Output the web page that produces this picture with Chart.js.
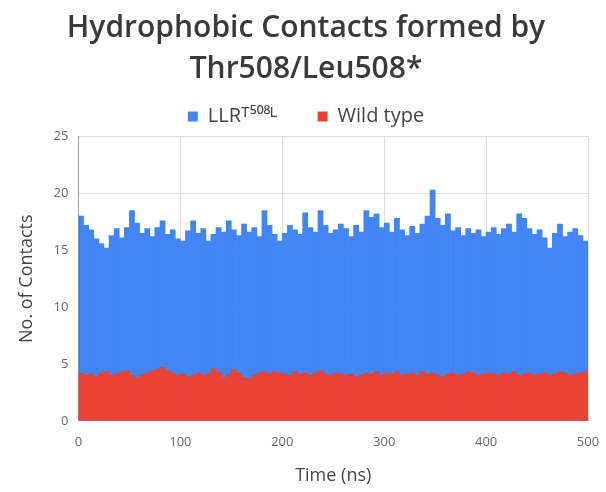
<!DOCTYPE html>
<html>
<head>
<meta charset="utf-8">
<script src="https://cdn.jsdelivr.net/npm/chart.js@4"></script>
<style>
  html, body { margin: 0; padding: 0; background: #fff; }
  #wrap { width: 606px; height: 492px; }
</style>
</head>
<body>
<div id="wrap"><canvas id="contactsChart"></canvas></div>
<script>
// --- data ---
const timeNs = [
  2.5, 7.5, 12.5, 17.5, 22.5, 27.5, 32.5, 37.5, 42.5, 47.5,
  52.5, 57.5, 62.5, 67.5, 72.5, 77.5, 82.5, 87.5, 92.5, 97.5,
  102.5, 107.5, 112.5, 117.5, 122.5, 127.5, 132.5, 137.5, 142.5, 147.5,
  152.5, 157.5, 162.5, 167.5, 172.5, 177.5, 182.5, 187.5, 192.5, 197.5,
  202.5, 207.5, 212.5, 217.5, 222.5, 227.5, 232.5, 237.5, 242.5, 247.5,
  252.5, 257.5, 262.5, 267.5, 272.5, 277.5, 282.5, 287.5, 292.5, 297.5,
  302.5, 307.5, 312.5, 317.5, 322.5, 327.5, 332.5, 337.5, 342.5, 347.5,
  352.5, 357.5, 362.5, 367.5, 372.5, 377.5, 382.5, 387.5, 392.5, 397.5,
  402.5, 407.5, 412.5, 417.5, 422.5, 427.5, 432.5, 437.5, 442.5, 447.5,
  452.5, 457.5, 462.5, 467.5, 472.5, 477.5, 482.5, 487.5, 492.5, 497.5
];

const llrContacts = [
  18.0, 17.2, 16.8, 16.0, 15.6, 15.2, 16.3, 16.9, 16.1, 17.0,
  18.5, 17.4, 16.5, 16.9, 16.2, 17.0, 17.6, 16.4, 16.8, 16.0,
  15.8, 16.7, 17.6, 16.5, 16.9, 15.8, 16.4, 17.0, 16.6, 17.6,
  16.8, 16.3, 17.3, 16.6, 17.0, 16.2, 18.5, 17.2, 16.4, 15.8,
  16.5, 17.2, 16.8, 16.4, 18.3, 17.0, 16.6, 18.5, 17.2, 16.5,
  16.8, 17.3, 16.9, 16.2, 17.2, 16.6, 18.5, 17.9, 18.2, 17.0,
  17.4, 16.6, 17.8, 16.8, 16.3, 17.1, 16.5, 17.3, 18.0, 20.3,
  17.8, 17.2, 18.2, 16.7, 17.0, 16.3, 16.9, 16.5, 16.8, 16.2,
  16.6, 17.0, 16.4, 16.9, 17.3, 16.6, 18.2, 17.8, 16.9, 16.4,
  16.8, 16.1, 15.2, 16.5, 17.3, 16.2, 16.6, 16.9, 16.3, 15.8
];

const wildContacts = [
  4.2, 4.0, 4.1, 3.9, 4.2, 4.3, 4.0, 4.1, 4.3, 4.4,
  4.0, 3.8, 4.0, 4.2, 4.4, 4.5, 4.7, 4.4, 4.2, 4.0,
  4.1, 3.9, 4.0, 4.2, 4.0, 4.1, 4.6, 4.3, 3.8, 4.1,
  4.5, 4.2, 3.8, 3.7, 4.0, 4.2, 4.3, 4.1, 4.3, 4.2,
  4.1, 4.0, 4.3, 4.1, 4.2, 4.0, 4.2, 4.4, 4.1, 4.0,
  4.2, 4.1, 4.0, 4.1, 3.9, 4.0, 4.2, 4.1, 4.3, 4.0,
  4.2, 4.1, 4.3, 4.0, 4.1, 4.2, 4.0, 4.3, 4.1, 4.2,
  4.0, 3.9, 4.1, 4.2, 4.0, 4.1, 4.3, 4.2, 4.0, 4.1,
  4.2, 4.1, 4.0, 4.2, 4.1, 4.3, 4.0, 4.1, 4.2, 4.0,
  4.1, 4.2, 4.0, 4.1, 4.3, 4.2, 4.0, 4.1, 4.2, 4.3
];

const xTicks = [0, 100, 200, 300, 400, 500];
const yTicks = [0, 5, 10, 15, 20, 25];

// colours
const blue = '#4285f4';
const red = '#ea4335';
const gridColor = '#dddddd';
const textColor = '#444444';

Chart.defaults.font.family = "'Open Sans', sans-serif";
Chart.defaults.color = textColor;

const toPoints = vals => vals.map((v, i) => ({ x: timeNs[i], y: v }));

new Chart(document.getElementById('contactsChart'), {
    type: 'bar',
    data: {
        datasets: [
            {
                label: 'LLR\u1D40\u2075\u2070\u2078\u1D38',
                data: toPoints(llrContacts),
                backgroundColor: blue,
                borderWidth: 0,
                barPercentage: 1,
                categoryPercentage: 1,
                order: 1
            },
            {
                label: 'Wild type',
                data: toPoints(wildContacts),
                backgroundColor: red,
                borderWidth: 0,
                barPercentage: 1,
                categoryPercentage: 1,
                order: 0
            }
        ]
    },
    options: {
        responsive: true,
        maintainAspectRatio: false,
        animation: false,
        layout: { padding: { left: 12, right: 6, top: 4, bottom: 5 } },
        datasets: { bar: { grouped: false } },
        plugins: {
            title: {
                display: true,
                text: ['Hydrophobic Contacts formed by', 'Thr508/Leu508*'],
                color: '#3a3a3a',
                font: { size: 30, weight: '600', lineHeight: 1.36 },
                padding: { top: 4, bottom: -23 }
            },
            legend: {
                position: 'top',
                labels: {
                    boxWidth: 10,
                    boxHeight: 10,
                    font: { size: 20 },
                    color: textColor,
                    padding: 40,
                    sort: (a, b) => a.datasetIndex - b.datasetIndex
                }
            },
            tooltip: { enabled: false }
        },
        scales: {
            x: {
                type: 'linear',
                min: 0,
                max: 500,
                offset: false,
                afterBuildTicks: axis => { axis.ticks = xTicks.map(v => ({ value: v })); },
                afterFit: axis => { axis.paddingRight = 18; },
                ticks: { font: { size: 13 }, color: '#666', maxRotation: 0, padding: 14 },
                grid: { color: gridColor, drawTicks: false, offset: false },
                border: { color: '#999' },
                title: { display: true, text: 'Time (ns)', font: { size: 18 }, color: textColor, padding: { top: 1, bottom: 0 } }
            },
            y: {
                min: 0,
                max: 25,
                afterBuildTicks: axis => { axis.ticks = yTicks.map(v => ({ value: v })); },
                ticks: { font: { size: 13 }, color: '#666', padding: 10 },
                grid: { color: gridColor, drawTicks: false },
                border: { color: '#999' },
                title: { display: true, text: 'No. of Contacts', font: { size: 18 }, color: textColor, padding: { bottom: 6 } }
            }
        }
    }
});
</script>
</body>
</html>
